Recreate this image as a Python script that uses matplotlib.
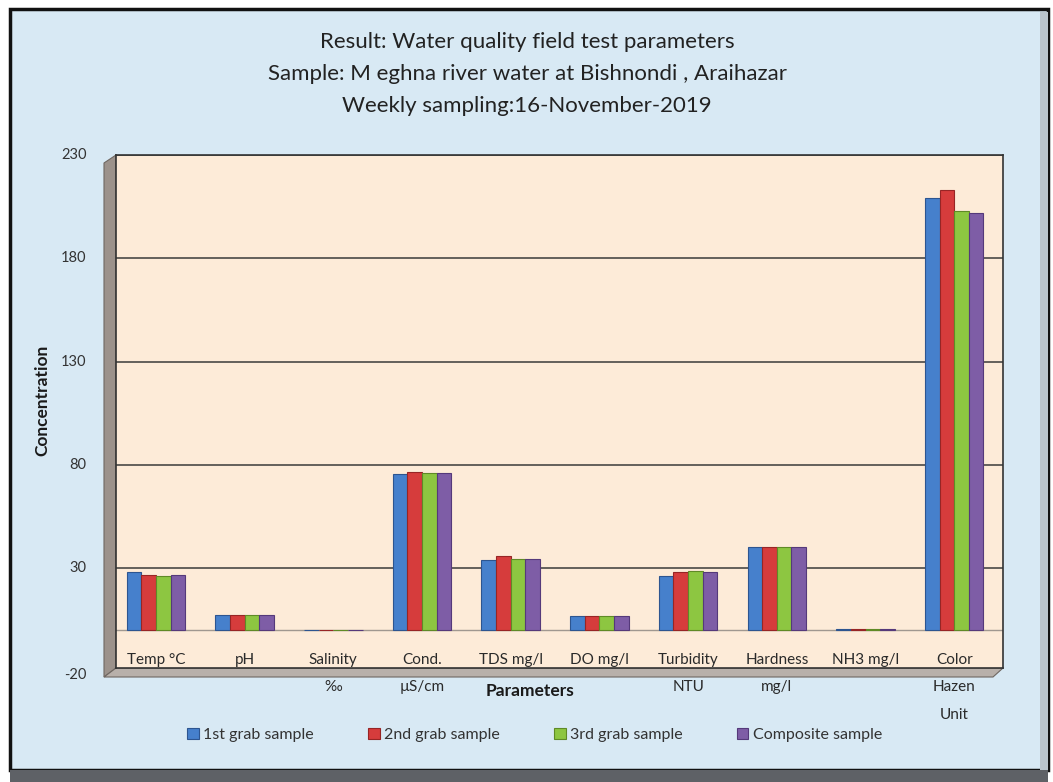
import matplotlib.pyplot as plt
from matplotlib.patches import Rectangle, Polygon
import numpy as np

plt.rcParams['font.family'] = ['Lato', 'DejaVu Sans']

parameters = ["Temp °C", "pH", "Salinity\n‰", "Cond.\nµS/cm", "TDS mg/l", "DO mg/l",
              "Turbidity\nNTU", "Hardness\nmg/l", "NH3 mg/l", "Color\nHazen\nUnit"]
grab_1 = [28, 7.3, 0.2, 75.5, 34, 7, 26, 40, 0.3, 209]
grab_2 = [26.5, 7.3, 0.2, 76.5, 36, 7, 28, 40, 0.3, 213]
grab_3 = [26.3, 7.3, 0.2, 76, 34.5, 7, 28.6, 40, 0.3, 203]
composite = [26.5, 7.3, 0.2, 76, 34.5, 7, 28, 40, 0.3, 202]
series_names = ["1st grab sample", "2nd grab sample", "3rd grab sample", "Composite sample"]
y_ticks = [-20, 30, 80, 130, 180, 230]

colors = ['#4680cc', '#d63c3c', '#8dc641', '#7e5da6']
edges = ['#2d5590', '#972525', '#5f8a26', '#55397a']

W, H = 1053, 782
fig = plt.figure(figsize=(W / 100, H / 100), dpi=100)
fig.patch.set_facecolor('white')


def px(x, y):
    # pixel position (from top-left) -> figure fraction
    return (x / W, 1 - y / H)


# outer frame
x0, y0 = px(10, 770)
x1, y1 = px(1048, 9)
fig.patches.append(Rectangle((x0, y0), x1 - x0, y1 - y0, transform=fig.transFigure,
                             facecolor='#d8e9f4', edgecolor='#111111', lw=2.5, zorder=-3))
bx, by = px(10, 782)
fig.patches.append(Rectangle((bx, by), (1048 - 10) / W, 12 / H, transform=fig.transFigure,
                             facecolor='#5e6166', edgecolor='none', zorder=-3))
fig.patches.append(Rectangle(px(1040, 770), 8 / W, (770 - 12) / H, transform=fig.transFigure,
                             facecolor='#b9c4cc', edgecolor='none', zorder=-3))

# 3D wall and floor
fig.patches.append(Polygon([px(104, 163), px(116, 155), px(116, 668), px(104, 677)],
                           closed=True, transform=fig.transFigure,
                           facecolor='#9c928b', edgecolor='#6f6761', lw=0.8, zorder=-2))
fig.patches.append(Polygon([px(104, 677), px(116, 668), px(1003, 668), px(993, 677)],
                           closed=True, transform=fig.transFigure,
                           facecolor='#b8b0aa', edgecolor='#6f6761', lw=0.8, zorder=-2))

ax = fig.add_axes([116 / W, 1 - 668 / H, (1003 - 116) / W, (668 - 155) / H])
ax.set_zorder(2)
ax.set_facecolor('#fdebd8')
ax.set_ylim(-18.4, 230)
ax.set_xlim(-0.45, 9.55)

x = np.arange(len(parameters))
bw = 0.165
for i, vals in enumerate([grab_1, grab_2, grab_3, composite]):
    ax.bar(x + (i - 1.5) * bw, vals, bw, color=colors[i], edgecolor=edges[i],
           linewidth=0.8, label=series_names[i], zorder=3)

for t in y_ticks[1:]:
    ax.axhline(t, color='#3a3a3a', lw=1.1, zorder=1)
ax.axhline(0, color='#a09890', lw=1, zorder=1)

ax.set_xticks([])
ax.set_yticks([])
for t in y_ticks:
    ax.text(-0.78, t if t != -20 else -22, str(t), ha='right', va='center',
            fontsize=10.5, color='#333333', clip_on=False)

for s in ax.spines.values():
    s.set_color('#333333')
    s.set_linewidth(1.2)

for i, lab in enumerate(parameters):
    ax.text(x[i], -11.2, lab, ha='center', va='top', fontsize=11, color='#2a2a2a',
            linespacing=2.2, clip_on=False)
ax.text(4.22, -29.6, "Parameters", ha='center', va='center', fontsize=12.5,
        fontweight='bold', color='#1a1a1a', clip_on=False)

fig.text(42 / W, 1 - 400 / H, "Concentration", rotation=90, ha='center', va='center',
         fontsize=12.5, fontweight='bold', color='#1a1a1a')

fig.text(527 / W, 1 - 42 / H, "Result: Water quality field test parameters",
         ha='center', va='center', fontsize=16, color='#222222')
fig.text(527 / W, 1 - 74 / H, "Sample: M eghna river water at Bishnondi , Araihazar",
         ha='center', va='center', fontsize=16, color='#222222')
fig.text(527 / W, 1 - 106 / H, "Weekly sampling:16-November-2019",
         ha='center', va='center', fontsize=16, color='#222222')

fig.legend(loc='center', bbox_to_anchor=(535 / W, 1 - 735 / H), ncol=4, frameon=False,
           fontsize=11.5, handlelength=0.7, handleheight=0.7, handletextpad=0.3,
           columnspacing=3.4, labelcolor='#333333')

fig.savefig('out.png', dpi=100)
